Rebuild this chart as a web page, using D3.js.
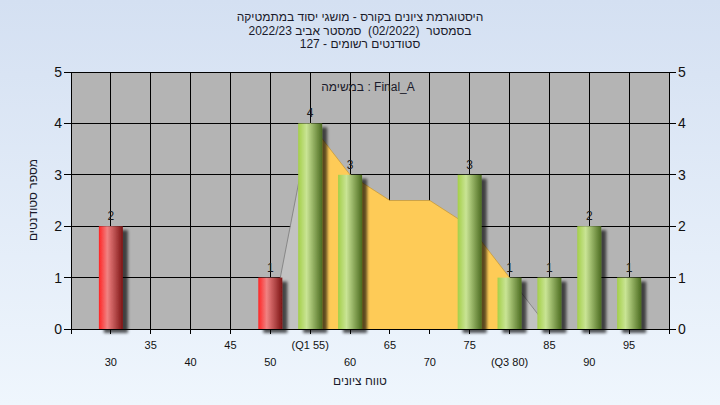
<!DOCTYPE html>
<html><head><meta charset="utf-8">
<script src="https://cdn.jsdelivr.net/npm/d3@7"></script>
<style>html,body{margin:0;padding:0;overflow:hidden;}svg{display:block;font-family:"Liberation Sans",Arial,sans-serif;}text{white-space:pre;}</style>
</head><body>
<svg id="chart" width="720" height="405"></svg>
<script>
// ---- data ----
const titleLines = ["היסטוגרמת ציונים בקורס - מושגי יסוד במתמטיקה", "בסמסטר  (02/2022)  סמסטר אביב 2022/23", "סטודנטים רשומים - 127"];
const innerLabel = "במשימה : Final_A";
const xTitle = "טווח ציונים";
const yTitle = "מספר סטודנטים";
const categories = [30, 35, 40, 45, 50, 55, 60, 65, 70, 75, 80, 85, 90, 95];
const counts = [2, 0, 0, 0, 1, 4, 3, 0, 0, 3, 1, 1, 2, 1];
const tickLabels = ["30", "35", "40", "45", "50", "(Q1 55)", "60", "65", "70", "75", "(Q3 80)", "85", "90", "95"];
const yTicks = [0, 1, 2, 3, 4, 5];
const areaGrades = [50, 55, 60, 65, 70, 75, 80, 85];
const areaValues = [0, 4, 3, 2.5, 2.5, 2, 1, 0];
const q1 = 55, q3 = 80, passGrade = 55;

// ---- layout ----
const W = 720, H = 405;
const L = 71, R = 669, T = 72, B = 329;
const svg = d3.select("#chart");
const defs = svg.append("defs");

const bg = defs.append("linearGradient").attr("id", "bg").attr("x1", 0).attr("y1", 0).attr("x2", 0).attr("y2", 1);
bg.append("stop").attr("offset", "0%").attr("stop-color", "#d4e0f2");
bg.append("stop").attr("offset", "100%").attr("stop-color", "#eff6fd");
svg.append("rect").attr("width", W).attr("height", H).attr("fill", "url(#bg)");

function cyl(id, c0, c1, c2) {
  const g = defs.append("linearGradient").attr("id", id).attr("x1", 0).attr("y1", 0).attr("x2", 1).attr("y2", 0);
  g.append("stop").attr("offset", "0%").attr("stop-color", c0);
  g.append("stop").attr("offset", "35%").attr("stop-color", c1);
  g.append("stop").attr("offset", "100%").attr("stop-color", c2);
}
cyl("red", "#ff2424", "#f08282", "#7c1414");
cyl("green", "#a4cf48", "#c9e495", "#4c6c20");

const sh = defs.append("filter").attr("id", "shadow").attr("x", "-20%").attr("y", "-20%").attr("width", "160%").attr("height", "140%");
sh.append("feGaussianBlur").attr("in", "SourceAlpha").attr("stdDeviation", 1.6).attr("result", "b");
sh.append("feOffset").attr("in", "b").attr("dx", 5).attr("dy", 4).attr("result", "o");
sh.append("feComponentTransfer").attr("in", "o").attr("result", "o2").append("feFuncA").attr("type", "linear").attr("slope", 0.65);
const m = sh.append("feMerge");
m.append("feMergeNode").attr("in", "o2");
m.append("feMergeNode").attr("in", "SourceGraphic");

const x = d3.scaleLinear().domain([25, 100]).range([L, R]);
const y = d3.scaleLinear().domain([0, 5]).range([B, T]);

// plot background
svg.append("rect").attr("x", L).attr("y", T).attr("width", R - L).attr("height", B - T).attr("fill", "#b4b4b4");

// grid
const grid = svg.append("g").attr("stroke", "#000").attr("stroke-width", 1).attr("shape-rendering", "crispEdges");
grid.selectAll(".hg").data(yTicks).join("line").attr("x1", L).attr("x2", R).attr("y1", d => y(d)).attr("y2", d => y(d));
grid.selectAll(".vg").data(categories).join("line").attr("y1", T).attr("y2", B).attr("x1", d => x(d)).attr("x2", d => x(d));

// area
const areaData = areaGrades.map((g, i) => ({ g, v: areaValues[i] }));
const area = d3.area().x(d => x(d.g)).y0(y(0)).y1(d => y(d.v));
const line = d3.line().x(d => x(d.g)).y(d => y(d.v));
defs.append("clipPath").attr("id", "mid").append("rect").attr("x", x(q1)).attr("y", T).attr("width", x(q3) - x(q1)).attr("height", B - T);
defs.append("clipPath").attr("id", "lo").append("rect").attr("x", L).attr("y", T).attr("width", x(q1) - L).attr("height", B - T);
defs.append("clipPath").attr("id", "hi").append("rect").attr("x", x(q3)).attr("y", T).attr("width", R - x(q3)).attr("height", B - T);
["lo", "hi"].forEach(c => {
  svg.append("path").datum(areaData).attr("d", area).attr("fill", "#c2c2c2").attr("clip-path", `url(#${c})`);
  svg.append("path").datum(areaData).attr("d", line).attr("fill", "none").attr("stroke", "#7a7a7a").attr("stroke-width", 0.8).attr("clip-path", `url(#${c})`);
});
svg.append("path").datum(areaData).attr("d", area).attr("fill", "#fecb57").attr("clip-path", "url(#mid)");
svg.append("path").datum(areaData).attr("d", line).attr("fill", "none").attr("stroke", "#c89a3a").attr("stroke-width", 0.8).attr("clip-path", "url(#mid)");

// axes lines
const ax = svg.append("g").attr("stroke", "#000").attr("stroke-width", 1).attr("shape-rendering", "crispEdges");
ax.append("line").attr("x1", L).attr("x2", L).attr("y1", T).attr("y2", B + 5);
ax.append("line").attr("x1", R).attr("x2", R).attr("y1", T).attr("y2", B + 5);
ax.append("line").attr("x1", L).attr("x2", R).attr("y1", B).attr("y2", B);
ax.selectAll(".lt").data(yTicks).join("line").attr("x1", L - 7).attr("x2", L).attr("y1", d => y(d)).attr("y2", d => y(d));
ax.selectAll(".rt").data(yTicks).join("line").attr("x1", R).attr("x2", R + 7).attr("y1", d => y(d)).attr("y2", d => y(d));
ax.selectAll(".xt").data(categories).join("line").attr("x1", d => x(d)).attr("x2", d => x(d)).attr("y1", B).attr("y2", B + 5);

// bars
const bw = 24;
const bars = categories.map((c, i) => ({ c, v: counts[i] })).filter(d => d.v > 0);
svg.append("g").selectAll("rect").data(bars).join("rect")
  .attr("x", d => x(d.c) - bw / 2).attr("width", bw)
  .attr("y", d => y(d.v)).attr("height", d => y(0) - y(d.v))
  .attr("fill", d => d.c < passGrade ? "url(#red)" : "url(#green)")
  .attr("filter", "url(#shadow)");
svg.append("g").selectAll("text").data(bars).join("text")
  .attr("x", d => x(d.c)).attr("y", d => y(d.v) - 6)
  .attr("text-anchor", "middle").attr("font-size", 12).attr("fill", "#1a1a1a").text(d => d.v);

// tick labels
svg.append("g").selectAll("text").data(yTicks).join("text")
  .attr("x", L - 9).attr("y", d => y(d) + 5).attr("text-anchor", "end").attr("font-size", 14).attr("fill", "#111").text(d => d);
svg.append("g").selectAll("text").data(yTicks).join("text")
  .attr("x", R + 9).attr("y", d => y(d) + 5).attr("text-anchor", "start").attr("font-size", 14).attr("fill", "#111").text(d => d);
svg.append("g").selectAll("text").data(categories).join("text")
  .attr("x", d => x(d)).attr("y", (d, i) => i % 2 ? 349 : 366)
  .attr("text-anchor", "middle").attr("font-size", 11).attr("fill", "#111").text((d, i) => tickLabels[i]);

// titles
svg.append("g").selectAll("text").data(titleLines).join("text")
  .attr("x", 360).attr("y", (d, i) => 21 + i * 13.5).attr("text-anchor", "middle").attr("direction", "rtl")
  .attr("font-size", 12).attr("fill", "#1a1a2a").text(d => d);
svg.append("text").attr("x", 368).attr("y", 91).attr("text-anchor", "middle").attr("direction", "ltr")
  .attr("font-size", 12).attr("fill", "#1a1a2a").text(innerLabel);
svg.append("text").attr("x", 360).attr("y", 385).attr("text-anchor", "middle").attr("direction", "rtl")
  .attr("font-size", 12).attr("fill", "#1a1a2a").text(xTitle);
svg.append("text").attr("transform", "translate(37,200) rotate(-90)").attr("text-anchor", "middle").attr("direction", "rtl")
  .attr("font-size", 12).attr("fill", "#1a1a2a").text(yTitle);
</script>
</body></html>
